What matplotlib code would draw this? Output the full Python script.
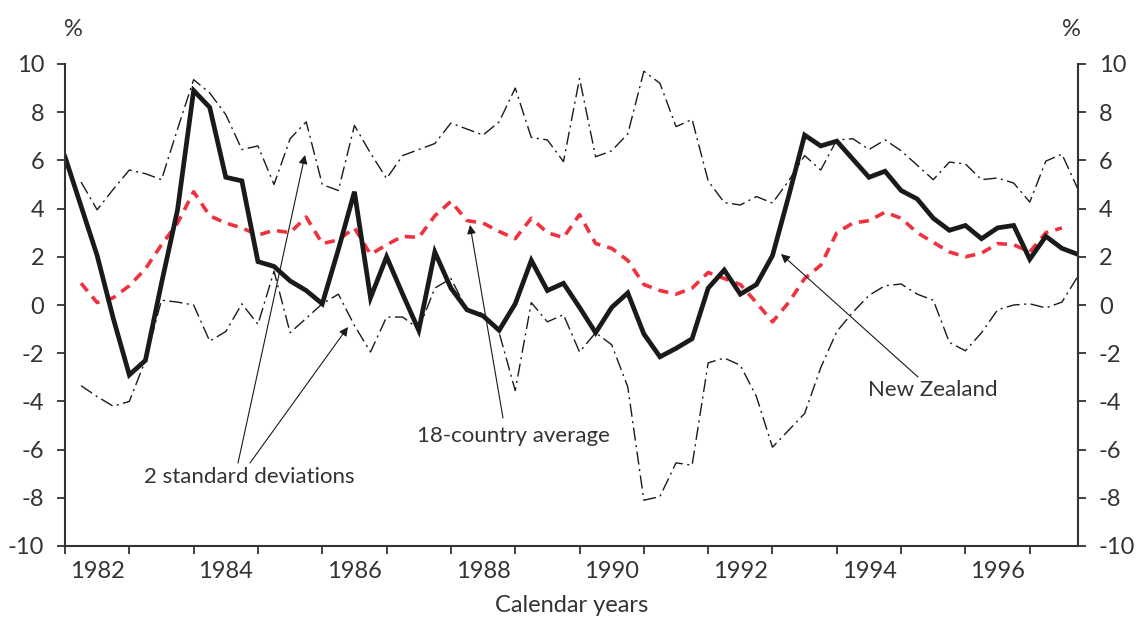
import numpy as np
import matplotlib
matplotlib.use("Agg")
import matplotlib.pyplot as plt
from matplotlib.ticker import FixedLocator, FixedFormatter

# Quarterly data, 1982Q1 .. 1997Q4
start_year = 1982
n_quarters = 64

new_zealand = [6.15, 4.1, 2.05, -0.55, -2.9, -2.3, 0.9, 3.95, 8.9, 8.2, 5.3, 5.15,
               1.8, 1.6, 1.0, 0.6, 0.05, 2.3, 4.7, 0.3, 2.0, 0.45, -1.05, 2.2,
               0.7, -0.2, -0.45, -1.05, 0.05, 1.85, 0.6, 0.9, -0.1, -1.15, -0.1, 0.5,
               -1.2, -2.15, -1.8, -1.4, 0.7, 1.45, 0.45, 0.85, 2.05, 4.5, 7.05, 6.6,
               6.8, 6.05, 5.3, 5.55, 4.75, 4.4, 3.6, 3.1, 3.3, 2.75, 3.2, 3.3,
               1.9, 2.85, 2.35, 2.1]

avg_18 = [np.nan, 0.9, 0.1, 0.3, 0.8, 1.5, 2.5, 3.4, 4.7, 3.7, 3.4, 3.2,
          2.9, 3.1, 3.0, 3.65, 2.55, 2.7, 3.2, 2.1, 2.5, 2.85, 2.8, 3.7,
          4.3, 3.5, 3.4, 3.05, 2.75, 3.6, 3.0, 2.8, 3.75, 2.55, 2.35, 1.85,
          0.85, 0.6, 0.45, 0.7, 1.35, 1.1, 0.85, 0.1, -0.7, 0.1, 1.1, 1.65,
          3.0, 3.4, 3.5, 3.85, 3.6, 3.0, 2.6, 2.2, 2.0, 2.15, 2.55, 2.5,
          2.2, 3.0, 3.2, np.nan]

upper_2sd = [np.nan, 5.1, 3.95, 4.8, 5.6, 5.45, 5.2, 7.3, 9.35, 8.8, 7.9, 6.45,
             6.6, 5.0, 6.9, 7.6, 5.0, 4.75, 7.45, 6.3, 5.25, 6.2, 6.45, 6.7,
             7.55, 7.3, 7.05, 7.6, 9.0, 6.95, 6.85, 5.95, 9.4, 6.15, 6.4, 7.1,
             9.7, 9.2, 7.4, 7.7, 5.15, 4.25, 4.15, 4.5, 4.23, 5.15, 6.2, 5.6,
             6.85, 6.9, 6.45, 6.85, 6.4, 5.8, 5.2, 5.93, 5.85, 5.2, 5.27, 5.06,
             4.27, 5.97, 6.26, 4.8]

lower_2sd = [np.nan, -3.35, -3.8, -4.2, -4.0, -2.3, 0.2, 0.12, 0.0, -1.5, -1.1, 0.05,
             -0.8, 1.4, -1.15, -0.55, 0.05, 0.45, -0.85, -1.95, -0.5, -0.5, -1.0, 0.7,
             1.1, -0.2, -0.35, -1.15, -3.55, 0.1, -0.7, -0.4, -1.95, -1.15, -1.65, -3.4,
             -8.1, -7.95, -6.55, -6.65, -2.4, -2.2, -2.5, -3.8, -5.9, -5.2, -4.5, -2.6,
             -1.1, -0.3, 0.4, 0.8, 0.87, 0.45, 0.2, -1.55, -1.9, -1.15, -0.2, 0.0,
             0.05, -0.12, 0.12, 1.2]

year_labels = ["1982", "1984", "1986", "1988", "1990", "1992", "1994", "1996"]
y_ticks = [-10, -8, -6, -4, -2, 0, 2, 4, 6, 8, 10]

x = start_year + np.arange(n_quarters) / 4.0

plt.rcParams['font.family'] = ['Lato', 'DejaVu Sans']
txt_color = '#333333'

fig = plt.figure(figsize=(11.36, 6.19), dpi=100)
ax = fig.add_axes([65/1136, 73/619, 1013/1136, 482/619])

ax.plot(x, upper_2sd, color='#1a1a1a', lw=1.0, linestyle=(0, (9.5, 3.2, 1.5, 3.2)))
ax.plot(x, lower_2sd, color='#1a1a1a', lw=1.0, linestyle=(0, (9.5, 3.2, 1.5, 3.2)))
ax.plot(x, avg_18, color='#f0323f', lw=2.6, linestyle=(0, (2.8, 2.0)))
ax.plot(x, new_zealand, color='#1a1a1a', lw=3.4, solid_joinstyle='miter')

ax.set_xlim(x[0], x[-1])
ax.set_ylim(-10, 10)

for side in ['left', 'right', 'bottom']:
    ax.spines[side].set_linewidth(1.5)
    ax.spines[side].set_color('#333333')
ax.spines['top'].set_visible(False)

# x axis: ticks at year boundaries, labels centred in the year
ax.xaxis.set_major_locator(FixedLocator(np.arange(start_year, 1998)))
ax.xaxis.set_major_formatter(FixedFormatter([''] * 16))
ax.xaxis.set_minor_locator(FixedLocator([int(y) + 0.5 for y in year_labels]))
ax.xaxis.set_minor_formatter(FixedFormatter(year_labels))
ax.tick_params(axis='x', which='major', direction='out', length=6, width=1.3, color='#333333')
ax.tick_params(axis='x', which='minor', length=0, pad=11, labelsize=17, labelcolor=txt_color)

ax.set_yticks(y_ticks)
ax.set_yticklabels([str(v) for v in y_ticks])
ax.tick_params(axis='y', which='major', direction='out', length=6, width=1.3, color='#333333',
               labelsize=17, labelcolor=txt_color, pad=9, right=True, labelright=True)

ax.set_xlabel('Calendar years', fontsize=17, color=txt_color, labelpad=9)

fig.text(73/1136, 1 - 29/619, '%', fontsize=17, color=txt_color, ha='center', va='center')
fig.text(1071/1136, 1 - 29/619, '%', fontsize=17, color=txt_color, ha='center', va='center')

def px2data(px, py):
    xd = start_year + (px - 65) / (1013 / 15.75)
    yd = (305 - py) / 24.1
    return xd, yd

arrow_kw = dict(arrowstyle='-|>', lw=0.8, color='#1a1a1a', mutation_scale=13,
                shrinkA=0, shrinkB=0)

annots = [((305, 155), (238, 463)), ((348, 327), (250, 463)),
          ((470, 225), (503, 418)), ((781, 254), (918, 377))]
for head, tail in annots:
    ax.annotate('', xy=px2data(*head), xytext=px2data(*tail), arrowprops=arrow_kw)

ax.text(*px2data(249, 477), '2 standard deviations', fontsize=16, color=txt_color,
        ha='center', va='center')
ax.text(*px2data(513, 436), '18-country average', fontsize=16, color=txt_color,
        ha='center', va='center')
ax.text(*px2data(933, 390), 'New Zealand', fontsize=16, color=txt_color,
        ha='center', va='center')

fig.savefig('out.png', dpi=100)
